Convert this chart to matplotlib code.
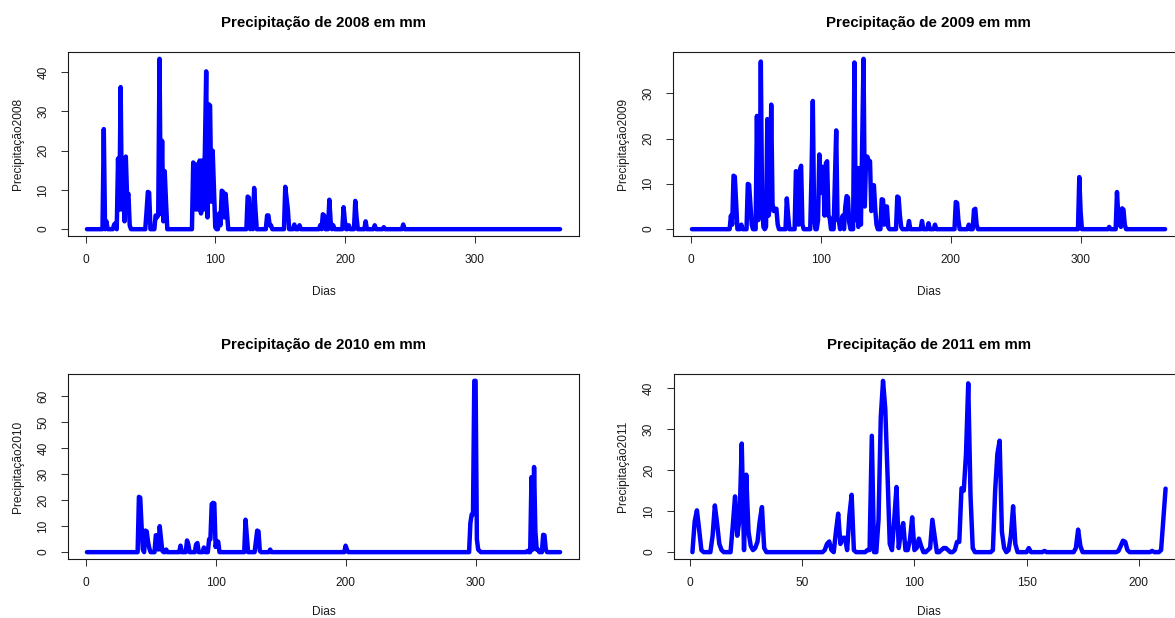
import matplotlib
matplotlib.use('Agg')
import matplotlib.pyplot as plt
from matplotlib.ticker import MultipleLocator
import numpy as np

plt.rcParams['font.family'] = ['Liberation Sans', 'DejaVu Sans']

# ---- data (days with rain and mm of rain; all other days are 0) ----
n_dias_2008 = 366
dias_2008 = [14, 16, 22, 23, 25, 26, 27, 28, 29, 30, 31, 32, 33, 34,
             47, 48, 49, 54, 55, 56, 57, 58, 59, 60, 61, 62,
             83, 84, 85, 86, 87, 88, 89, 90, 91, 92, 93, 94, 95, 96, 97, 98, 99, 100,
             103, 104, 105, 106, 107, 108, 109,
             125, 126, 128, 130, 131, 140, 141, 142, 143,
             154, 155, 156, 161, 165, 181, 183, 184, 188, 189, 191,
             199, 200, 203, 208, 209, 216, 223, 230, 245]
chuva_2008 = [25.5, 2, 1.2, 1.5, 18, 5, 36.2, 5, 14, 2, 18.5, 8, 9, 1,
              4.5, 9.5, 9.3, 3.5, 3, 3.5, 43.4, 4, 22.5, 2, 14.8, 7,
              17, 16.5, 5, 16.5, 5, 17.5, 4, 17.5, 5, 20, 40.2, 3, 31.8, 31.5, 7, 20, 10.3, 0.5,
              4, 1, 9.8, 9.5, 3, 9, 4.5,
              8.3, 8, 4, 10.5, 5, 3.5, 3.5, 1, 1,
              10.8, 8, 5, 1.2, 1, 1, 3.8, 3.5, 7.5, 2, 1,
              5.6, 2, 1, 7.2, 3, 2, 1, 0.5, 1.2]

n_dias_2009 = 365
dias_2009 = [31, 32, 33, 34, 35, 39, 44, 45, 46, 47, 51, 52, 53, 54, 55, 56,
             58, 59, 60, 61, 62, 63, 64, 65, 66, 67, 74, 75,
             81, 82, 83, 84, 85, 86, 93, 94, 95,
             98, 99, 100, 101, 102, 103, 104, 105, 106, 107,
             111, 112, 113, 114, 116, 117, 119, 120, 121, 122,
             126, 127, 128, 129, 130, 131, 132, 133, 134, 135, 136, 137, 138, 139,
             140, 141, 142, 143, 147, 148, 149, 150, 151, 152,
             159, 160, 161, 162, 168, 178, 183, 188, 204, 205, 206,
             214, 218, 219, 220, 299, 300, 322, 328, 329, 330, 331, 332, 333, 334]
chuva_2009 = [3, 1, 11.8, 11.6, 5.8, 1, 10, 9.8, 5.5, 1, 25, 2, 5, 37, 5, 0.5,
              0.5, 24.3, 3, 5, 27.5, 5.5, 4, 4.5, 4.5, 1, 6.8, 3,
              12.8, 12.5, 1, 13, 14, 1, 12, 28.3, 3,
              2, 16.5, 8, 13.8, 13.5, 3, 14.5, 15, 3, 2.5,
              11, 21.8, 2, 2, 2, 3, 5, 7.3, 7, 1.5,
              36.8, 2, 13.5, 0.5, 13.5, 1, 19, 37.6, 5, 16, 16, 15, 15, 4,
              9.7, 9.7, 4.5, 1, 6.6, 6.5, 1, 5, 5, 0.5,
              7.2, 7, 3, 0.5, 1.8, 1.8, 1.3, 1, 6, 5.8, 2,
              1, 4.3, 4.5, 1, 11.5, 4, 0.5, 8.2, 3, 1, 0.5, 4.6, 4.3, 1]

n_dias_2010 = 365
dias_2010 = [41, 42, 43, 44, 46, 47, 48, 49, 54, 55, 56, 57, 58, 59, 62,
             73, 78, 79, 85, 86, 91, 95, 96, 97, 98, 99, 100, 101, 102,
             123, 124, 131, 132, 133, 134, 142, 200, 201,
             296, 297, 298, 299, 300, 301, 302, 303,
             340, 343, 344, 345, 346, 347, 348, 352, 353, 354]
chuva_2010 = [21.3, 21, 10.5, 1, 8.3, 8, 4, 1.5, 6.5, 6.5, 1, 10, 5, 0.5, 1,
              2.5, 4.5, 3, 3, 3.5, 1.8, 5, 5, 18.5, 19, 18.8, 2, 4.3, 4,
              12.5, 6, 4, 8.3, 8, 0.5, 1, 2.5, 1,
              11.2, 14.5, 14.5, 66, 66, 5, 1, 0.5,
              0.5, 28.9, 1, 32.8, 8, 1, 1, 6.7, 6.5, 1]

n_dias_2011 = 212
dias_2011 = [2, 3, 4, 5, 10, 11, 12, 13, 14,
             19, 20, 21, 22, 23, 24, 25, 26, 27, 28, 29, 30, 31, 32, 33,
             60, 61, 62, 63, 65, 66, 67, 68, 69, 70, 71, 72, 73,
             79, 80, 81, 84, 85, 86, 87, 88, 89,
             90, 91, 92, 93, 94, 95, 96, 97, 98, 99, 100, 101, 102, 103,
             106, 107, 108, 109, 112, 113, 114, 115,
             118, 119, 120, 121, 122, 123, 124, 125, 126,
             135, 136, 137, 138, 139, 140, 142, 143, 144, 145,
             151, 158, 172, 173, 174, 191, 192, 193, 194, 195, 206, 210, 211, 212]
chuva_2011 = [7.5, 10.2, 5.5, 0.5, 4, 11.4, 7, 2, 0.5,
              6.5, 13.6, 4, 8, 26.5, 0.5, 18.9, 5, 1.5, 0.5, 1, 2.5, 7.5, 11, 1,
              0.5, 2, 2.6, 0.5, 5, 9.4, 2, 3.5, 3.5, 0.5, 9, 14, 0.5,
              0.5, 0.5, 28.4, 8, 33, 41.8, 35, 19, 2,
              0.5, 8, 15.9, 1, 5, 7.1, 0.5, 0.5, 3, 8.5, 0.5, 1, 3.3, 1.5,
              0.5, 1, 7.9, 4, 0.5, 1, 1, 0.5,
              0.5, 2.5, 2.5, 15.6, 15, 24, 41.2, 14, 1,
              0.5, 15, 24, 27.2, 5, 1, 0.5, 4, 11.2, 2,
              1, 0.3, 1, 5.5, 1.5, 0.3, 1.5, 2.8, 2.5, 0.5, 0.3, 0.5, 8, 15.5]

anos = ['2008', '2009', '2010', '2011']
series = [(n_dias_2008, dias_2008, chuva_2008),
          (n_dias_2009, dias_2009, chuva_2009),
          (n_dias_2010, dias_2010, chuva_2010),
          (n_dias_2011, dias_2011, chuva_2011)]
passo_x = [100, 100, 100, 50]

# ---- layout (pixels of a 1175x618 canvas) ----
W, H = 1175, 618
boxes = [(68, 52, 511, 184), (673, 52, 511, 184),
         (68, 374, 511, 185), (673.5, 374, 511, 185)]
xlabel_pad = [14.3, 14.3, 11.8, 11.8]

fig = plt.figure(figsize=(W / 100, H / 100), dpi=100)
for (ano, (n, dias, chuva), passo, (l, t, w, h), xpad) in zip(
        anos, series, passo_x, boxes, xlabel_pad):
    ax = fig.add_axes([l / W, (H - t - h) / H, w / W, h / H])
    x = np.arange(1, n + 1)
    y = np.zeros(n)
    y[np.array(dias) - 1] = chuva
    ax.plot(x, y, color='#0000FF', lw=3.2, solid_capstyle='round',
            solid_joinstyle='round')
    ax.margins(x=0.04, y=0.04)
    ax.xaxis.set_major_locator(MultipleLocator(passo))
    ax.yaxis.set_major_locator(MultipleLocator(10))
    for s in ax.spines.values():
        s.set_linewidth(0.8)
        s.set_color('#1a1a1a')
    ax.tick_params(direction='out', length=5.3, width=0.75, color='#333333',
                   labelsize=8.6, pad=8, labelcolor='#1a1a1a')
    ax.tick_params(axis='y', labelrotation=90)
    for lab in ax.get_yticklabels():
        lab.set_va('center')
    ax.set_title('Precipitação de %s em mm' % ano, fontsize=10.8,
                 fontweight='bold', pad=18)
    ax.set_xlabel('Dias', fontsize=8.6, labelpad=xpad, color='#1a1a1a')
    ax.set_ylabel('Precipitação%s' % ano, fontsize=8.6, labelpad=10,
                  color='#1a1a1a')

fig.savefig('out.png', dpi=100)
